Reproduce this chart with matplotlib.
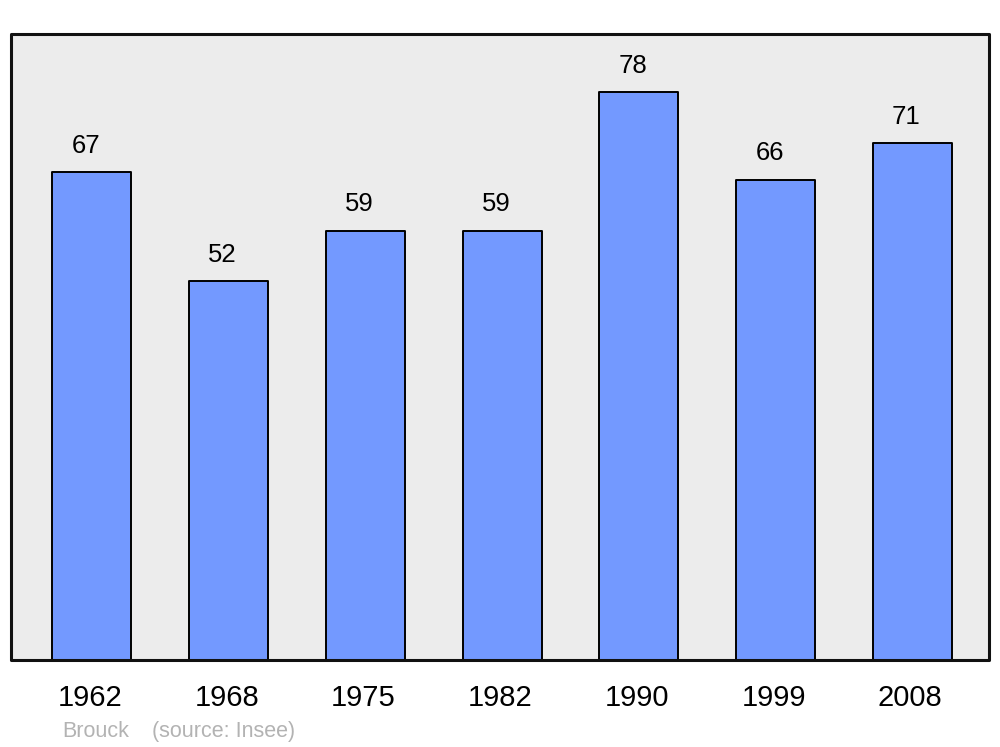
import matplotlib.pyplot as plt
from matplotlib.patches import Rectangle
import numpy as np

# data
years = ['1962', '1968', '1975', '1982', '1990', '1999', '2008']
population = [67, 52, 59, 59, 78, 66, 71]
commune = 'Brouck'
source = '(source: Insee)'

plt.rcParams['font.family'] = ['Liberation Sans', 'DejaVu Sans']

fig = plt.figure(figsize=(10, 7.47), dpi=100)
ax = fig.add_axes([0.011, 0.1165, 0.978, 0.838])

x = np.arange(len(years))
bars = ax.bar(x, population, width=0.578, color='#7399ff', edgecolor='black',
              linewidth=1.4, zorder=3)
for b in bars:
    b.set_joinstyle('round')

for xi, v in zip(x, population):
    ax.annotate(str(v), (xi, v), xytext=(-4.3, 19), textcoords='offset points',
                ha='center', va='center', fontsize=18.5, color='black')

ax.set_xlim(-0.592, 6.56)
ax.set_ylim(0, 86)
ax.set_facecolor('#ececec')
for s in ax.spines.values():
    s.set_visible(False)
frame = Rectangle((0, 0), 1, 1, transform=ax.transAxes, fill=False,
                  edgecolor='#111111', linewidth=2.2, joinstyle='round',
                  clip_on=False, zorder=5)
ax.add_patch(frame)

ax.set_xticks(x - 0.015)
ax.set_xticklabels(years, fontsize=21)
ax.tick_params(axis='x', length=0, pad=17)
ax.set_yticks([])

fig.text(0.062, 1 - 737 / 747, commune, fontsize=15.5, color='#b3b3b3', va='baseline')
fig.text(0.152, 1 - 737 / 747, source, fontsize=15.5, color='#b3b3b3', va='baseline')

fig.savefig('out.png', dpi=100)
